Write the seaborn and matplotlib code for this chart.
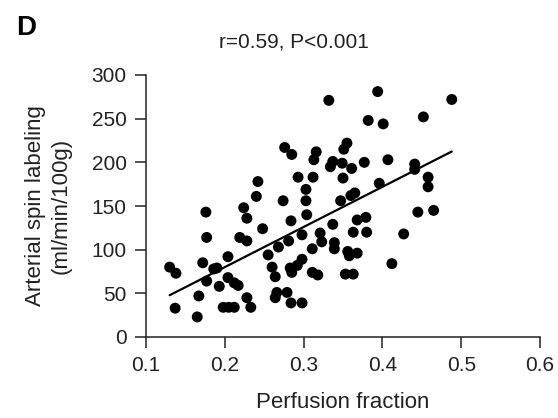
import matplotlib
matplotlib.use("Agg")
import matplotlib.pyplot as plt
import seaborn as sns
import numpy as np
import pandas as pd

perfusion_fraction = [
    0.130, 0.138, 0.137, 0.165, 0.167, 0.172, 0.176, 0.177, 0.177, 0.186,
    0.190, 0.193, 0.204, 0.204, 0.212, 0.217, 0.198, 0.205, 0.212, 0.224,
    0.228, 0.219, 0.228, 0.228, 0.233, 0.240, 0.242, 0.248, 0.255, 0.260,
    0.264, 0.276, 0.285, 0.274, 0.284, 0.281, 0.268, 0.293, 0.312, 0.303,
    0.303, 0.304, 0.298, 0.298, 0.292, 0.283, 0.285, 0.311, 0.311, 0.318,
    0.266, 0.279, 0.264, 0.284, 0.298, 0.316, 0.313, 0.321, 0.323, 0.332,
    0.355, 0.351, 0.337, 0.334, 0.349, 0.361, 0.377, 0.350, 0.347, 0.360,
    0.365, 0.337, 0.368, 0.379, 0.363, 0.380, 0.339, 0.339, 0.356, 0.358,
    0.368, 0.353, 0.363, 0.394, 0.382, 0.401, 0.407, 0.396, 0.412, 0.427,
    0.441, 0.441, 0.452, 0.458, 0.458, 0.445, 0.465, 0.488,
]
asl_flow = [
    80, 73, 33, 23, 47, 85, 143, 114, 64, 78,
    79, 58, 92, 68, 62, 59, 34, 34, 34, 148,
    136, 114, 110, 45, 34, 161, 178, 124, 94, 80,
    69, 217, 209, 156, 133, 110, 103, 183, 183, 169,
    156, 140, 117, 89, 82, 79, 74, 101, 74, 71,
    51, 51, 45, 39, 39, 212, 203, 119, 109, 271,
    222, 215, 201, 195, 199, 193, 200, 182, 156, 162,
    165, 129, 134, 137, 120, 120, 108, 101, 98, 93,
    96, 72, 72, 281, 248, 244, 203, 176, 84, 118,
    198, 192, 252, 183, 172, 143, 145, 272,
]
x_ticks = [0.1, 0.2, 0.3, 0.4, 0.5, 0.6]
y_ticks = [0, 50, 100, 150, 200, 250, 300]

df = pd.DataFrame({"pf": perfusion_fraction, "asl": asl_flow})

sns.set_style("ticks")
plt.rcParams["font.family"] = ["Liberation Sans", "DejaVu Sans"]

fig = plt.figure(figsize=(5.58, 4.18), dpi=100)
ax = fig.add_axes([146 / 558, 1 - 337 / 418, 394 / 558, 262 / 418])

sns.regplot(data=df, x="pf", y="asl", ax=ax, ci=None, truncate=True,
            scatter_kws=dict(s=62, color="black", edgecolor="none", alpha=1),
            line_kws=dict(color="black", lw=1.6))

ax.set_xlim(0.1, 0.6)
ax.set_ylim(0, 300)
ax.set_xticks(x_ticks)
ax.set_yticks(y_ticks)
ax.set_xticklabels([f"{t:.1f}" for t in x_ticks])
ax.set_yticklabels([str(t) for t in y_ticks])
for s in ["top", "right"]:
    ax.spines[s].set_visible(False)
for s in ["left", "bottom"]:
    ax.spines[s].set_linewidth(1.1)
    ax.spines[s].set_color("#222222")
ax.tick_params(direction="out", length=8, width=1.1, pad=6,
               labelsize=15, colors="#222222", labelcolor="#222222")
ax.set_xlabel("Perfusion fraction", fontsize=16, labelpad=12, color="#222222")
ax.set_ylabel("Arterial spin labeling\n(ml/min/100g)", fontsize=16,
              labelpad=14, color="#222222", linespacing=1.3)

fig.text(294 / 558, 1 - 48 / 418, "r=0.59, P<0.001", ha="center",
         va="baseline", fontsize=15, color="#222222")
fig.text(16 / 558, 1 - 35 / 418, "D", ha="left", va="baseline",
         fontsize=20, fontweight="bold", color="black")

fig.savefig("out.png", dpi=100)
